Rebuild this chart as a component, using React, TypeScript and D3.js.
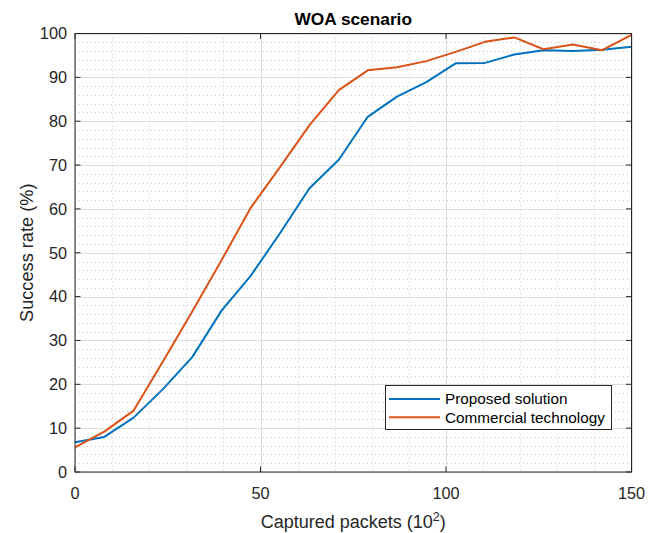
import React from "react";
import * as d3 from "d3";

const xValues = [0, 7.9, 15.8, 23.7, 31.6, 39.5, 47.4, 55.3, 63.2, 71.1, 78.9, 86.8, 94.7, 102.6, 110.5, 118.4, 126.3, 134.2, 142.1, 150];
const proposed = [6.8, 8.0, 12.4, 18.9, 26.2, 36.8, 44.8, 54.5, 64.7, 71.2, 81.0, 85.6, 88.9, 93.2, 93.3, 95.2, 96.2, 96.0, 96.3, 97.0];
const commercial = [5.6, 9.2, 14.0, 25.2, 36.6, 48.3, 60.3, 69.6, 79.1, 87.1, 91.6, 92.3, 93.7, 95.8, 98.1, 99.1, 96.4, 97.5, 96.2, 99.7];
const seriesNames = ["Proposed solution", "Commercial technology"];
const xTicks = [0, 50, 100, 150];
const yTicks = [0, 10, 20, 30, 40, 50, 60, 70, 80, 90, 100];
const titleText = "WOA scenario";
const xLabel = "Captured packets (10";
const yLabel = "Success rate (%)";

const W = 659;
const H = 533;
const L = 75, R = 631.5, T = 33.5, B = 472;
const FONT = "'Liberation Sans', Arial, Helvetica, sans-serif";
const COLORS = ["#0072BD", "#D95319"];
const AX = "#262626";

export default function App() {
  const x = d3.scaleLinear().domain([0, 150]).range([L, R]);
  const y = d3.scaleLinear().domain([0, 100]).range([B, T]);
  const minorX = d3.range(0, 151, 10).filter((v) => v % 50 !== 0);
  const minorY = d3.range(0, 101, 2).filter((v) => v % 10 !== 0);
  const line = d3
    .line<number>()
    .x((_, i) => x(xValues[i]))
    .y((d) => y(d));
  const series = [proposed, commercial];

  return (
    <svg
      width={W}
      height={H}
      style={{ position: "absolute", left: 0, top: 0, background: "#fff" }}
      fontFamily={FONT}
    >
      <rect x={0} y={0} width={W} height={H} fill="#fff" />
      {/* minor grid */}
      {minorX.map((v) => (
        <line key={"mx" + v} x1={Math.round(x(v)) + 0.5} x2={Math.round(x(v)) + 0.5} y1={T} y2={B} stroke="#c8c8c8" strokeWidth={1} strokeDasharray="1,3" />
      ))}
      {minorY.map((v) => (
        <line key={"my" + v} x1={L} x2={R} y1={Math.round(y(v)) + 0.5} y2={Math.round(y(v)) + 0.5} stroke="#c8c8c8" strokeWidth={1} strokeDasharray="1,3" />
      ))}
      {/* major grid */}
      {xTicks.map((v) => (
        <line key={"gx" + v} x1={Math.round(x(v)) + 0.5} x2={Math.round(x(v)) + 0.5} y1={T} y2={B} stroke="#dedede" strokeWidth={1} />
      ))}
      {yTicks.map((v) => (
        <line key={"gy" + v} x1={L} x2={R} y1={Math.round(y(v)) + 0.5} y2={Math.round(y(v)) + 0.5} stroke="#dedede" strokeWidth={1} />
      ))}
      {/* data lines */}
      {series.map((s, k) => (
        <path key={"s" + k} d={line(s) || ""} fill="none" stroke={COLORS[k]} strokeWidth={2} strokeLinejoin="round" />
      ))}
      {/* box */}
      <rect x={L} y={T} width={R - L} height={B - T} fill="none" stroke={AX} strokeWidth={1} />
      {/* ticks */}
      {xTicks.map((v) => (
        <g key={"tx" + v}>
          <line x1={x(v)} x2={x(v)} y1={B} y2={B - 5.5} stroke={AX} />
          <line x1={x(v)} x2={x(v)} y1={T} y2={T + 5.5} stroke={AX} />
          <text x={x(v)} y={498.5} textAnchor="middle" fontSize={16.3} fill={AX}>
            {v}
          </text>
        </g>
      ))}
      {yTicks.map((v) => (
        <g key={"ty" + v}>
          <line x1={L} x2={L + 5.5} y1={y(v)} y2={y(v)} stroke={AX} />
          <line x1={R} x2={R - 5.5} y1={y(v)} y2={y(v)} stroke={AX} />
          <text x={67} y={y(v)} dy="0.36em" textAnchor="end" fontSize={16.3} fill={AX}>
            {v}
          </text>
        </g>
      ))}
      {/* title */}
      <text x={(L + R) / 2} y={24.5} textAnchor="middle" fontSize={17.3} fontWeight="bold" fill="#000">
        {titleText}
      </text>
      {/* x label */}
      <text x={(L + R) / 2} y={528} textAnchor="middle" fontSize={18} fill={AX}>
        {xLabel}
        <tspan fontSize={12.5} dy={-7.5}>2</tspan>
        <tspan dy={7.5}>)</tspan>
      </text>
      {/* y label */}
      <text transform={`translate(32.5, ${(T + B) / 2}) rotate(-90)`} textAnchor="middle" fontSize={18.2} fill={AX}>
        {yLabel}
      </text>
      {/* legend */}
      <rect x={385.5} y={385.5} width={226} height={44} fill="#fff" stroke={AX} strokeWidth={1} />
      {seriesNames.map((name, k) => (
        <g key={"lg" + k}>
          <line x1={389} x2={440} y1={399 + k * 18.3} y2={399 + k * 18.3} stroke={COLORS[k]} strokeWidth={2} />
          <text x={445} y={399 + k * 18.3} dy="0.35em" fontSize={15.3} fill="#000">
            {name}
          </text>
        </g>
      ))}
    </svg>
  );
}
